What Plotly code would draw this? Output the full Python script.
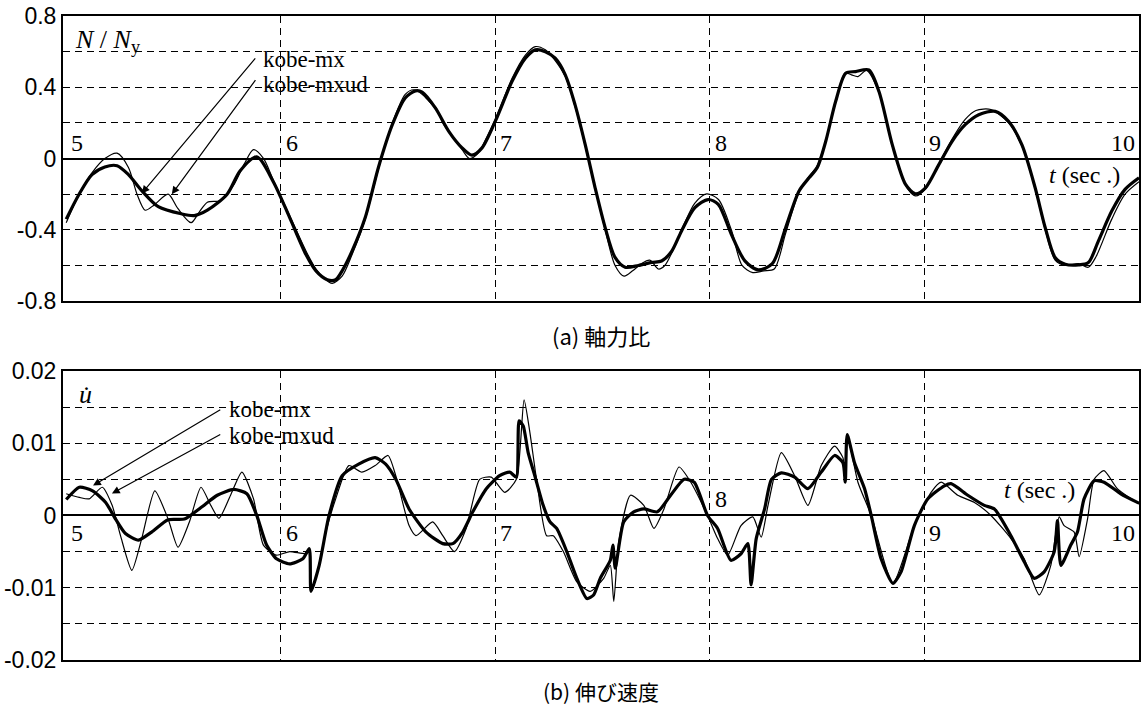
import plotly.graph_objects as go

# ---------------- data ----------------
# (a) axial force ratio N/Ny
a_t_mxud = [5.0, 5.06, 5.12, 5.18, 5.237, 5.29, 5.352, 5.429, 5.536, 5.597, 5.658, 5.75, 5.81, 5.888,
            5.965, 6.041, 6.118, 6.164, 6.217, 6.256, 6.286, 6.332, 6.394, 6.455, 6.52, 6.58, 6.628,
            6.659, 6.721, 6.783, 6.845, 6.891, 6.938, 7.0, 7.078, 7.14, 7.186, 7.233, 7.279, 7.326,
            7.372, 7.419, 7.465, 7.512, 7.558, 7.605, 7.667, 7.729, 7.775, 7.822, 7.868, 7.93, 7.992,
            8.039, 8.1, 8.163, 8.225, 8.291, 8.353, 8.415, 8.462, 8.5, 8.54, 8.586, 8.633, 8.679,
            8.741, 8.788, 8.85, 8.912, 8.958, 9.005, 9.067, 9.129, 9.19, 9.253, 9.33, 9.392, 9.454,
            9.516, 9.563, 9.609, 9.656, 9.718, 9.764, 9.811, 9.873, 9.935, 10.0]
a_v_mxud = [-0.34, -0.2, -0.09, -0.047, -0.04, -0.09, -0.18, -0.27, -0.31, -0.32, -0.29, -0.2, -0.07, 0.01,
            -0.13, -0.33, -0.54, -0.63, -0.68, -0.68, -0.63, -0.52, -0.33, -0.05, 0.19, 0.34, 0.38,
            0.373, 0.283, 0.153, 0.06, 0.019, 0.06, 0.21, 0.433, 0.563, 0.61, 0.6, 0.563, 0.47,
            0.30, 0.078, -0.164, -0.388, -0.555, -0.61, -0.60, -0.583, -0.575, -0.52, -0.406, -0.276, -0.23,
            -0.257, -0.425, -0.574, -0.625, -0.59, -0.388, -0.183, -0.108, -0.052, 0.097, 0.32, 0.479, 0.488,
            0.497, 0.376, 0.078, -0.145, -0.198, -0.164, -0.034, 0.097, 0.19, 0.246, 0.265, 0.209, 0.078,
            -0.164, -0.388, -0.555, -0.593, -0.597, -0.584, -0.462, -0.295, -0.173, -0.108]

a_t_mx = [5.0, 5.06, 5.12, 5.18, 5.237, 5.29, 5.33, 5.368, 5.41, 5.475, 5.52, 5.582, 5.62, 5.658, 5.72,
          5.78, 5.83, 5.873, 5.92, 5.965, 6.041, 6.118, 6.164, 6.2, 6.24, 6.286, 6.332, 6.394, 6.455,
          6.52, 6.58, 6.62, 6.66, 6.7, 6.721, 6.76, 6.79, 6.845, 6.88, 6.92, 6.96, 7.0, 7.078, 7.14,
          7.186, 7.233, 7.279, 7.326, 7.372, 7.419, 7.465, 7.512, 7.558, 7.6, 7.64, 7.68, 7.72, 7.76,
          7.79, 7.822, 7.868, 7.93, 7.985, 8.04, 8.1, 8.15, 8.2, 8.25, 8.3, 8.353, 8.415, 8.462, 8.5,
          8.54, 8.586, 8.63, 8.66, 8.69, 8.73, 8.788, 8.85, 8.912, 8.958, 9.005, 9.067, 9.129, 9.19,
          9.24, 9.31, 9.392, 9.454, 9.516, 9.563, 9.609, 9.656, 9.718, 9.764, 9.8, 9.873, 9.935, 10.0]
a_v_mx = [-0.36, -0.2, -0.08, 0.0, 0.03, -0.05, -0.2, -0.29, -0.26, -0.2, -0.28, -0.36, -0.3, -0.245, -0.235,
          -0.15, -0.03, 0.05, 0.0, -0.12, -0.32, -0.52, -0.62, -0.67, -0.70, -0.66, -0.54, -0.34, -0.06,
          0.2, 0.36, 0.386, 0.36, 0.31, 0.29, 0.19, 0.14, 0.05, 0.0, 0.03, 0.12, 0.22, 0.45, 0.58,
          0.628, 0.61, 0.55, 0.46, 0.29, 0.07, -0.17, -0.4, -0.6, -0.66, -0.63, -0.59, -0.57, -0.62,
          -0.6, -0.53, -0.4, -0.25, -0.198, -0.23, -0.4, -0.6, -0.64, -0.63, -0.62, -0.42, -0.19, -0.1, -0.04,
          0.1, 0.32, 0.48, 0.47, 0.46, 0.495, 0.37, 0.07, -0.15, -0.21, -0.17, -0.03, 0.11, 0.22,
          0.27, 0.275, 0.2, 0.07, -0.17, -0.4, -0.57, -0.6, -0.59, -0.61, -0.55, -0.34, -0.2, -0.13]

# (b) elongation velocity u-dot
b_t_mxud = [5.0, 5.061, 5.123, 5.184, 5.23, 5.276, 5.337, 5.398, 5.475, 5.551, 5.628, 5.704, 5.781, 5.842,
            5.888, 5.934, 5.98, 6.041, 6.103, 6.133, 6.141, 6.179, 6.225, 6.286, 6.363, 6.44, 6.489,
            6.536, 6.598, 6.677, 6.755, 6.802, 6.848, 6.895, 6.958, 7.02, 7.067, 7.098, 7.111, 7.13,
            7.153, 7.184, 7.223, 7.255, 7.286, 7.333, 7.38, 7.427, 7.458, 7.489, 7.536, 7.548, 7.559,
            7.598, 7.645, 7.692, 7.755, 7.817, 7.88, 7.927, 7.989, 8.036, 8.098, 8.145, 8.177, 8.192,
            8.216, 8.255, 8.287, 8.333, 8.395, 8.457, 8.519, 8.581, 8.62, 8.631, 8.64, 8.674, 8.721,
            8.752, 8.798, 8.853, 8.891, 8.953, 9.016, 9.093, 9.124, 9.202, 9.279, 9.326, 9.403, 9.465,
            9.512, 9.558, 9.605, 9.62, 9.636, 9.682, 9.713, 9.744, 9.791, 9.837, 9.915, 10.0]
b_v_mxud = [0.0022, 0.0039, 0.0034, 0.0018, -0.0005, -0.0025, -0.0034, -0.0023, -0.0006, -0.0005, 0.0011, 0.0028, 0.0036, 0.003,
            0.0, -0.0041, -0.006, -0.0067, -0.006, -0.0046, -0.0105, -0.0069, 0.0, 0.0055, 0.0071, 0.008, 0.0071,
            0.005, 0.0009, -0.0023, -0.0039, -0.0039, -0.0023, 0.0005, 0.0037, 0.0055, 0.006, 0.0053, 0.0131, 0.0124,
            0.0087, 0.0055, 0.0014, -0.0009, -0.0018, -0.005, -0.0087, -0.0115, -0.011, -0.0087, -0.0062, -0.0041, -0.0073,
            -0.0009, 0.0005, 0.0009, 0.0005, 0.0028, 0.005, 0.0046, 0.0, -0.0018, -0.0062, -0.0053, -0.0039, -0.0096,
            -0.0032, 0.0009, 0.005, 0.0059, 0.0053, 0.0037, 0.006, 0.0083, 0.0073, 0.0046, 0.0112, 0.0073, 0.0037,
            0.0, -0.006, -0.0094, -0.0078, -0.0014, 0.0023, 0.0041, 0.0044, 0.0028, 0.0014, 0.0009, -0.0028, -0.0064,
            -0.0087, -0.0078, -0.005, -0.0007, -0.0069, -0.0041, -0.0023, 0.0023, 0.0048, 0.0046, 0.003, 0.0017]

b_t_mx = [5.0, 5.061, 5.107, 5.168, 5.214, 5.253, 5.306, 5.352, 5.413, 5.475, 5.521, 5.574, 5.628, 5.674,
          5.712, 5.766, 5.819, 5.873, 5.919, 5.98, 6.041, 6.118, 6.136, 6.141, 6.164, 6.21, 6.256, 6.317,
          6.378, 6.44, 6.5, 6.536, 6.598, 6.63, 6.708, 6.755, 6.809, 6.864, 6.927, 6.981, 7.044, 7.098,
          7.134, 7.161, 7.192, 7.239, 7.27, 7.317, 7.38, 7.442, 7.505, 7.536, 7.552, 7.575, 7.63, 7.692,
          7.739, 7.786, 7.856, 7.911, 7.989, 8.036, 8.083, 8.145, 8.2, 8.239, 8.271, 8.333, 8.395, 8.457,
          8.519, 8.581, 8.62, 8.631, 8.64, 8.69, 8.752, 8.853, 8.953, 9.031, 9.078, 9.155, 9.233, 9.31,
          9.403, 9.465, 9.535, 9.589, 9.628, 9.651, 9.698, 9.721, 9.76, 9.791, 9.837, 9.899, 10.0]
b_v_mx = [0.003, 0.0025, 0.0023, 0.0039, 0.0014, -0.0028, -0.0076, -0.0032, 0.0034, -0.0005, -0.0044, -0.0009, 0.0039, 0.0014,
          -0.0004, 0.0028, 0.006, 0.0023, -0.0041, -0.0055, -0.005, -0.0053, -0.0048, -0.0105, -0.0087, -0.0023, 0.0023, 0.0069,
          0.006, 0.0069, 0.0083, 0.0055, -0.0014, -0.0028, -0.0009, -0.0028, -0.005, -0.0018, 0.005, 0.0053, 0.0032, 0.005,
          0.016, 0.0115, 0.005, -0.0028, -0.0028, -0.005, -0.0092, -0.0105, -0.0087, -0.0069, -0.0119, -0.0037, 0.0028, 0.0014,
          -0.0018, 0.0009, 0.0067, 0.0046, 0.0, -0.0032, -0.0055, -0.0014, -0.0002, -0.003, 0.0014, 0.0087, 0.0055, 0.0014,
          0.0069, 0.0096, 0.008, 0.0055, 0.0112, 0.0046, 0.0, -0.0094, -0.0014, 0.0032, 0.0046, 0.0028, 0.0018, 0.0,
          -0.0032, -0.006, -0.011, -0.0069, -0.0002, -0.0014, -0.0023, -0.0057, -0.0005, 0.005, 0.0062, 0.0037, 0.0016]

x_ticks = [5, 6, 7, 8, 9, 10]
a_yticks = [-0.8, -0.6, -0.4, -0.2, 0, 0.2, 0.4, 0.6, 0.8]
a_yticktext = ["-0.8", "", "-0.4", "", "0", "", "0.4", "", "0.8"]
b_yticks = [-0.02, -0.015, -0.01, -0.005, 0, 0.005, 0.01, 0.015, 0.02]
b_yticktext = ["-0.02", "", "-0.01", "", "0", "", "0.01", "", "0.02"]
# position of inner t-labels relative to zero line: +1 above, -1 below
a_tick_side = [1, 1, 1, 1, 1, 1]
b_tick_side = [-1, -1, -1, 1, -1, -1]

SERIF = "Liberation Serif"
SANS = "Liberation Sans"
CJK = "Noto Sans CJK JP"

fig = go.Figure()
fig.add_trace(go.Scatter(x=a_t_mx, y=a_v_mx, mode="lines", name="kobe-mx",
                         line=dict(color="black", width=1.2, shape="spline", smoothing=0.8),
                         xaxis="x", yaxis="y"))
fig.add_trace(go.Scatter(x=a_t_mxud, y=a_v_mxud, mode="lines", name="kobe-mxud",
                         line=dict(color="black", width=3.2, shape="spline", smoothing=0.8),
                         xaxis="x", yaxis="y"))
fig.add_trace(go.Scatter(x=b_t_mx, y=b_v_mx, mode="lines", name="kobe-mx",
                         line=dict(color="black", width=1.2, shape="spline", smoothing=0.6),
                         xaxis="x2", yaxis="y2"))
fig.add_trace(go.Scatter(x=b_t_mxud, y=b_v_mxud, mode="lines", name="kobe-mxud",
                         line=dict(color="black", width=3.2, shape="spline", smoothing=0.6),
                         xaxis="x2", yaxis="y2"))

xcommon = dict(range=[4.985, 10.0], tickvals=[6, 7, 8, 9], showticklabels=False, ticks="",
               showgrid=True, gridcolor="black", gridwidth=1.2, griddash="7px,5px",
               showline=True, linecolor="black", linewidth=2, mirror=True, zeroline=False)
ycommon = dict(ticks="", showgrid=True, gridcolor="black", gridwidth=1.2, griddash="7px,5px",
               showline=True, linecolor="black", linewidth=2, mirror=True,
               zeroline=True, zerolinecolor="black", zerolinewidth=2,
               tickfont=dict(family=SANS, size=23, color="black"))

fig.update_layout(
    width=1144, height=706,
    margin=dict(l=63, r=3, t=14, b=46),
    paper_bgcolor="white", plot_bgcolor="white",
    showlegend=False,
    xaxis=dict(domain=[0, 1], anchor="y", **xcommon),
    yaxis=dict(domain=[0.5573, 1], anchor="x", range=[-0.8, 0.8],
               tickvals=a_yticks, ticktext=a_yticktext, **ycommon),
    xaxis2=dict(domain=[0, 1], anchor="y2", **xcommon),
    yaxis2=dict(domain=[0, 0.4489], anchor="x2", range=[-0.02, 0.02],
                tickvals=b_yticks, ticktext=b_yticktext, **ycommon),
)

ann = []
# inner t tick labels
for xr, yr, sides in (("x", "y", a_tick_side), ("x2", "y2", b_tick_side)):
    for tv, sd in zip(x_ticks, sides):
        last = tv == x_ticks[-1]
        ann.append(dict(x=tv, y=0, xref=xr, yref=yr, text=str(tv), showarrow=False,
                        xanchor="right" if last else "left",
                        yanchor="bottom" if sd > 0 else "top",
                        xshift=-2 if last else 3, yshift=1 if sd > 0 else -3,
                        font=dict(family=SERIF, size=24, color="black")))

# axis labels
ann.append(dict(x=5.03, y=0.66, xref="x", yref="y", text="<i>N</i> / <i>N</i><sub>y</sub>",
                showarrow=False, xanchor="left", yanchor="middle",
                font=dict(family=SERIF, size=26, color="black")))
ann.append(dict(x=5.05, y=0.0168, xref="x2", yref="y2", text="<i>u\u0307</i>",
                showarrow=False, xanchor="left", yanchor="middle",
                font=dict(family=SERIF, size=26, color="black")))
ann.append(dict(x=9.92, y=-0.09, xref="x", yref="y", text="<i>t</i> (sec .)",
                showarrow=False, xanchor="right", yanchor="middle",
                font=dict(family=SERIF, size=24, color="black")))
ann.append(dict(x=9.71, y=0.0035, xref="x2", yref="y2", text="<i>t</i> (sec .)",
                showarrow=False, xanchor="right", yanchor="middle",
                font=dict(family=SERIF, size=24, color="black")))

# series labels with arrows
LBL = dict(family=SERIF, size=23, color="black")
ann += [
    dict(x=5.91, y=0.555, xref="x", yref="y", text="kobe-mx", showarrow=False,
         xanchor="left", yanchor="middle", font=LBL),
    dict(x=5.91, y=0.415, xref="x", yref="y", text="kobe-mxud", showarrow=False,
         xanchor="left", yanchor="middle", font=LBL),
    dict(x=5.352, y=-0.196, ax=5.887, ay=0.571, xref="x", yref="y", axref="x", ayref="y",
         text="", showarrow=True, arrowhead=2, arrowsize=1.3, arrowwidth=1.2, arrowcolor="black"),
    dict(x=5.492, y=-0.201, ax=5.887, ay=0.448, xref="x", yref="y", axref="x", ayref="y",
         text="", showarrow=True, arrowhead=2, arrowsize=1.3, arrowwidth=1.2, arrowcolor="black"),
    dict(x=5.75, y=0.0147, xref="x2", yref="y2", text="kobe-mx", showarrow=False,
         xanchor="left", yanchor="middle", font=LBL),
    dict(x=5.75, y=0.0111, xref="x2", yref="y2", text="kobe-mxud", showarrow=False,
         xanchor="left", yanchor="middle", font=LBL),
    dict(x=5.125, y=0.00414, ax=5.725, ay=0.01476, xref="x2", yref="y2", axref="x2", ayref="y2",
         text="", showarrow=True, arrowhead=2, arrowsize=1.3, arrowwidth=1.2, arrowcolor="black"),
    dict(x=5.213, y=0.00303, ax=5.725, ay=0.01131, xref="x2", yref="y2", axref="x2", ayref="y2",
         text="", showarrow=True, arrowhead=2, arrowsize=1.3, arrowwidth=1.2, arrowcolor="black"),
]

# captions
ann.append(dict(x=0.5, y=0.505, xref="paper", yref="paper", text="(a) 軸力比", showarrow=False,
                xanchor="center", yanchor="middle", font=dict(family=CJK, size=22, color="black")))
ann.append(dict(x=0.5, y=-0.048, xref="paper", yref="paper", text="(b) 伸び速度", showarrow=False,
                xanchor="center", yanchor="middle", font=dict(family=CJK, size=21, color="black")))

fig.update_layout(annotations=ann)
fig.write_html("out.html", config={"displayModeBar": False},
               post_script="document.body.style.margin='0';document.body.style.overflow='hidden';")
